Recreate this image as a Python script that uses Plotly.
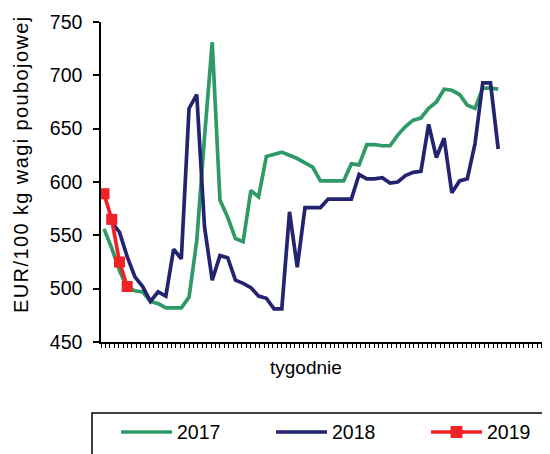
import plotly.graph_objects as go

weeks = list(range(1, 53))
y2017 = [556, 538, 517, 501, 498, 497, 488, 486, 482, 482, 482, 492, 545, 642, 731,
         583, 567, 547, 544, 592, 586, 624, 626, 628, 625, 622, 618, 614, 601, 601,
         601, 601, 617, 616, 635, 635, 634, 634, 644, 652, 658, 660, 669, 675, 687,
         686, 682, 672, 669, 688, 688, 687]
y2018 = [None, 562, 553, 530, 511, 502, 488, 497, 493, 537, 528, 669, 682, 558, 508,
         531, 529, 508, 505, 501, 493, 491, 481, 481, 572, 520, 576, 576, 576, 584,
         584, 584, 584, 607, 603, 603, 604, 599, 600, 606, 609, 610, 654, 623, 641,
         590, 601, 603, 636, 693, 693, 631]
weeks2019 = [1, 2, 3, 4]
y2019 = [589, 565, 525, 502]
series_names = ["2017", "2018", "2019"]
y_ticks = [450, 500, 550, 600, 650, 700, 750]

GREEN = "#2F9A67"
BLUE = "#23236F"
RED = "#EE2227"
FONT = "Arial, 'Liberation Sans', sans-serif"

# the page body has an 8px margin: work in screen coordinates and shift
OFF = 8
W, H = 550 - OFF, 454 - OFF
L, T = 101 - OFF, 22 - OFF
R = 0
B = H - (342 - OFF)
PW, PH = W - L - R, H - T - B


def px(x):
    return (x - OFF - L) / PW


def py(y):
    return (H - B - (y - OFF)) / PH


fig = go.Figure()
fig.add_trace(go.Scatter(x=weeks, y=y2017, mode="lines", name=series_names[0],
                         line=dict(color=GREEN, width=3.7), showlegend=False))
fig.add_trace(go.Scatter(x=weeks, y=y2018, mode="lines", name=series_names[1],
                         line=dict(color=BLUE, width=3.7), showlegend=False))
fig.add_trace(go.Scatter(x=weeks2019, y=y2019, mode="lines+markers", name=series_names[2],
                         line=dict(color=RED, width=3.7),
                         marker=dict(symbol="square", size=11, color=RED),
                         showlegend=False))

fig.update_layout(
    width=W, height=H,
    margin=dict(l=L, r=R, t=T, b=B, autoexpand=False),
    plot_bgcolor="white", paper_bgcolor="white",
    font=dict(family=FONT, size=19.5, color="black"),
    xaxis=dict(range=[0.61, 58.7], showgrid=False, zeroline=False,
               showline=True, linecolor="black", linewidth=1.5,
               ticks="outside", ticklen=4, tickwidth=1, tickcolor="black",
               tick0=0.61, dtick=0.57, showticklabels=False),
    yaxis=dict(range=[450, 750], showgrid=False, zeroline=False,
               showline=True, linecolor="black", linewidth=1.5,
               ticks="outside", ticklen=6, tickwidth=1.5, tickcolor="black",
               tickvals=y_ticks, ticklabelstandoff=7,
               tickfont=dict(family=FONT, size=19.5, color="black")),
)

# axis titles
fig.add_annotation(text="tygodnie", xref="paper", yref="paper", x=px(306), y=py(367),
                   showarrow=False, font=dict(family=FONT, size=19, color="black"),
                   xanchor="center", yanchor="middle")
fig.add_annotation(text='<span style="letter-spacing:1.4px">EUR/100 kg wagi poubojowej</span>',
                   xref="paper", yref="paper",
                   x=px(21), y=py(164), textangle=-90, showarrow=False,
                   font=dict(family=FONT, size=20, color="black"),
                   xanchor="center", yanchor="middle")

# legend box
fig.add_shape(type="rect", xref="paper", yref="paper",
              x0=px(92), x1=px(600), y0=py(500), y1=py(413),
              line=dict(color="black", width=1.5), fillcolor="rgba(0,0,0,0)")
legend_y = 432
legend_items = [(121, GREEN, False), (276, BLUE, False), (431, RED, True)]
for (x0, col, mark), name in zip(legend_items, series_names):
    fig.add_shape(type="line", xref="paper", yref="paper",
                  x0=px(x0), x1=px(x0 + 51), y0=py(legend_y), y1=py(legend_y),
                  line=dict(color=col, width=3.7))
    if mark:
        c = x0 + 25.5
        fig.add_shape(type="rect", xref="paper", yref="paper",
                      x0=px(c - 6), x1=px(c + 6), y0=py(legend_y + 6), y1=py(legend_y - 6),
                      line=dict(color=col, width=0), fillcolor=col)
    fig.add_annotation(text=name, xref="paper", yref="paper", x=px(x0 + 54), y=py(legend_y),
                       showarrow=False, xanchor="left", yanchor="middle",
                       font=dict(family=FONT, size=19.5, color="black"))

fig.write_html("out.html")
